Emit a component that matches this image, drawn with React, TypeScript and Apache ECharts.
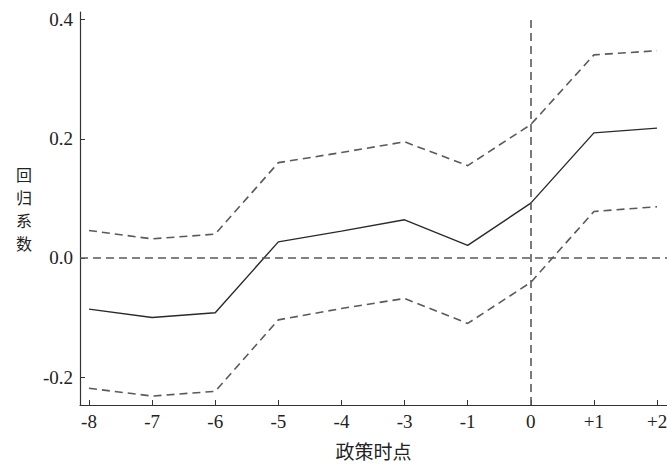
import React, { useEffect, useRef } from 'react';
import * as echarts from 'echarts';

const categories = ['-8', '-7', '-6', '-5', '-4', '-3', '-1', '0', '+1', '+2'];
const coef = [-0.086, -0.100, -0.092, 0.027, 0.045, 0.064, 0.021, 0.092, 0.210, 0.218];
const upper = [0.046, 0.032, 0.040, 0.160, 0.177, 0.195, 0.155, 0.224, 0.341, 0.348];
const lower = [-0.219, -0.232, -0.224, -0.104, -0.085, -0.068, -0.110, -0.041, 0.078, 0.086];
const yTicks = [-0.2, 0, 0.2, 0.4];
const policyIndex = 7;
const yMin = -0.247;
const yMax = 0.413;
const vLineTop = 0.4;

const serif = '"Liberation Serif", "Times New Roman", serif';
const cjk = '"Noto Sans CJK SC", sans-serif';

export default function App() {
  const ref = useRef<HTMLDivElement>(null);
  useEffect(() => {
    if (!ref.current) return;
    const chart = echarts.init(ref.current, undefined, { renderer: 'svg' });
    const idx = categories.map((_, i) => i);
    const toData = (arr: number[]) => arr.map((v, i) => [i, v]);
    const dashed = { color: '#5a5a5a', width: 1.6, type: [8, 5] as number[] };
    chart.setOption({
      animation: false,
      backgroundColor: '#ffffff',
      grid: { left: 80, right: 0, top: 12, bottom: 60, containLabel: false, outerBoundsMode: 'none' },
      xAxis: {
        type: 'value',
        min: -0.1426,
        max: 9.158,
        splitLine: { show: false },
        axisLine: { onZero: false, lineStyle: { color: '#333', width: 1.2 } },
        axisTick: { inside: true, length: 5, customValues: idx, lineStyle: { color: '#333' } },
        axisLabel: {
          customValues: idx,
          formatter: (v: number) => categories[Math.round(v)] ?? '',
          fontFamily: serif,
          fontSize: 19,
          color: '#222',
          margin: 7,
        },
        name: '政策时点',
        nameLocation: 'middle',
        nameGap: 36,
        nameTextStyle: { fontFamily: cjk, fontSize: 19, color: '#222' },
      },
      yAxis: {
        type: 'value',
        min: yMin,
        max: yMax,
        splitLine: { show: false },
        axisLine: { show: true, onZero: false, lineStyle: { color: '#333', width: 1.2 } },
        axisTick: { show: true, inside: true, length: 5, customValues: yTicks, lineStyle: { color: '#333' } },
        axisLabel: {
          customValues: yTicks,
          formatter: (v: number) => v.toFixed(1),
          fontFamily: serif,
          fontSize: 19,
          color: '#222',
          margin: 7,
        },
        name: '回\n归\n系\n数',
        nameLocation: 'middle',
        nameRotate: 0,
        nameGap: 48,
        nameTextStyle: { fontFamily: cjk, fontSize: 16, lineHeight: 23, color: '#222', padding: [0, 0, 12, 0] },
      },
      series: [
        {
          type: 'line',
          data: toData(upper),
          symbol: 'none',
          lineStyle: dashed,
          z: 2,
        },
        {
          type: 'line',
          data: toData(lower),
          symbol: 'none',
          lineStyle: dashed,
          z: 2,
        },
        {
          type: 'line',
          data: toData(coef),
          symbol: 'none',
          lineStyle: { color: '#2a2a2a', width: 1.4 },
          z: 3,
          markLine: {
            silent: true,
            symbol: 'none',
            label: { show: false },
            lineStyle: { color: '#5a5a5a', width: 1.6, type: [8, 5] },
            data: [
              { yAxis: 0 },
              [{ coord: [policyIndex, yMin] }, { coord: [policyIndex, vLineTop] }],
            ],
          },
        },
      ],
    });
    return () => chart.dispose();
  }, []);
  return (
    <div
      ref={ref}
      style={{ position: 'absolute', left: 0, top: 0, width: 667, height: 465, background: '#fff' }}
    />
  );
}
